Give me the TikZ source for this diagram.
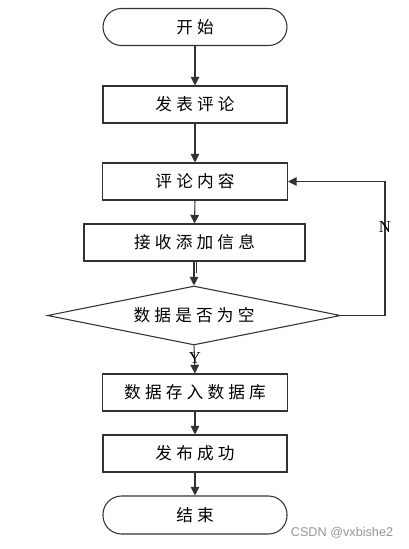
\documentclass[tikz,border=0pt]{standalone}
\usepackage{fontspec}
\setmainfont{Liberation Serif}
\newfontfamily\cjk[LetterSpace=25]{Noto Sans CJK SC}
\newfontfamily\wmfont{Liberation Sans}
\usetikzlibrary{shapes.geometric,arrows.meta}
\definecolor{linegray}{RGB}{50,50,50}
\definecolor{wmgray}{RGB}{150,150,150}
\begin{document}
\begin{tikzpicture}[x=0.75pt,y=-0.75pt,
  every node/.style={font=\cjk\fontsize{12.5pt}{14pt}\selectfont, text=black},
  procbox/.style={draw=linegray, line width=0.8pt, rectangle, minimum height=27.75pt, inner sep=0pt},
  termbox/.style={draw=linegray, line width=0.8pt, rectangle, rounded corners=13.9pt, minimum width=138pt, minimum height=27.75pt, inner sep=0pt},
  decbox/.style={draw=linegray, line width=0.8pt, diamond, aspect=4.97, minimum width=219.75pt, minimum height=44.25pt, inner sep=0pt},
  flow/.style={draw=linegray, line width=0.8pt, -{Triangle[length=6.5pt,width=6.5pt]}},
  yn/.style={font=\fontsize{12.5pt}{14pt}\selectfont}
]
\useasboundingbox (0,0) rectangle (409,549);
\node[termbox] (start) at (195,27) {开始};
\node[procbox, minimum width=138pt] (fb) at (195,104.5) {发表评论};
\node[procbox, minimum width=138.75pt] (content) at (195,181.5) {评论内容};
\node[procbox, minimum width=165.75pt] (recv) at (194.5,242.5) {接收添加信息};
\node[decbox] (dec) at (194,315.5) {数据是否为空};
\node[procbox, minimum width=138.75pt] (store) at (195,392.5) {数据存入数据库};
\node[procbox, minimum width=138pt] (succ) at (195,453.5) {发布成功};
\node[termbox, minimum height=28.5pt] (end) at (195,515) {结束};
\coordinate (corner) at (385,315.5);
\draw[flow] (start.south) -- (fb.north);
\draw[flow] (fb.south) -- (content.north);
\draw[flow] (content.south) -- (recv.north);
\draw[flow] (recv.south -| dec.north) -- (dec.north);
\draw[draw=linegray, line width=0.8pt] ([xshift=2.2pt]recv.south -| dec.north) -- ([xshift=2.2pt,yshift=9pt]dec.north);
\draw[flow] (dec.south) -- (store.north);
\draw[flow] (store.south) -- (succ.north);
\draw[flow] (succ.south) -- (end.north);
\draw[flow] (dec.east) -- (corner) |- (content.east);
\node[yn] (nlab) at (385,227.5) {N};
\node[yn] (ylab) at (195,358) {Y};
\node[font=\wmfont\fontsize{9.5pt}{11pt}\selectfont, text=wmgray] (wm) at (342,533) {CSDN @vxbishe2};
\end{tikzpicture}
\end{document}
